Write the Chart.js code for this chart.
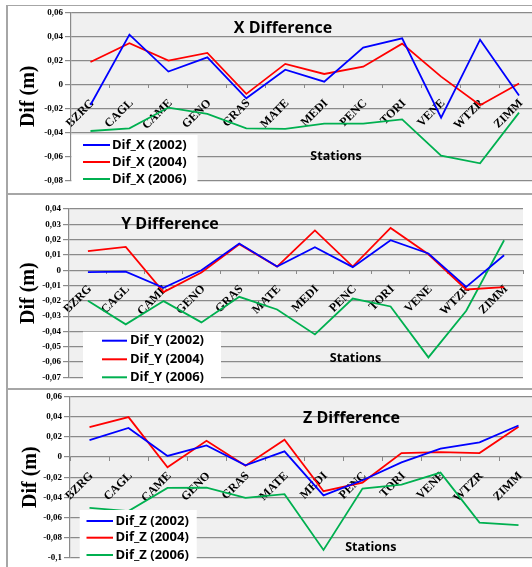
<!DOCTYPE html>
<html>
<head>
<meta charset="utf-8">
<script src="https://cdn.jsdelivr.net/npm/chart.js@4.4.0/dist/chart.umd.min.js"></script>
<style>
  html, body { margin: 0; padding: 0; background: #fff; overflow: hidden; }
  #wrap { position: relative; width: 532px; height: 567px; overflow: hidden; }
  .panel { position: absolute; left: 0; }
  canvas { display: block; }
  .frame { position: absolute; background: #a6a6a6; }
</style>
</head>
<body>
<div id="wrap">
  <div class="panel" style="top:0px"><canvas id="canvasX" width="540" height="194"></canvas></div>
  <div class="panel" style="top:194px"><canvas id="canvasY" width="540" height="195"></canvas></div>
  <div class="panel" style="top:389px"><canvas id="canvasZ" width="540" height="178"></canvas></div>
  <div class="frame" style="left:6px;top:5px;width:2px;height:562px"></div>
  <div class="frame" style="left:6px;top:5px;width:526px;height:1px"></div>
  <div class="frame" style="left:6px;top:193px;width:526px;height:2px"></div>
  <div class="frame" style="left:6px;top:388px;width:526px;height:2px"></div>
</div>
<script>
const stations = ["BZRG", "CAGL", "CAME", "GENO", "GRAS", "MATE", "MEDI", "PENC", "TORI", "VENE", "WTZR", "ZIMM"];

const difX2002 = [-0.0172, 0.0414, 0.0106, 0.0225, -0.0117, 0.0122, 0.0022, 0.0306, 0.0383, -0.0278, 0.0372, -0.0094];
const difX2004 = [0.0186, 0.0342, 0.0197, 0.0261, -0.0080, 0.0170, 0.0086, 0.0147, 0.0339, 0.0064, -0.0175, 0.0006];
const difX2006 = [-0.0389, -0.0367, -0.0194, -0.0247, -0.0367, -0.0372, -0.0328, -0.0328, -0.0292, -0.0594, -0.0658, -0.0236];

const difY2002 = [-0.0013, -0.0009, -0.0115, 0.0000, 0.0174, 0.0024, 0.0150, 0.0020, 0.0196, 0.0109, -0.0109, 0.0098];
const difY2004 = [0.0124, 0.0152, -0.0143, -0.0015, 0.0170, 0.0024, 0.0260, 0.0024, 0.0276, 0.0104, -0.0126, -0.0111];
const difY2006 = [-0.0200, -0.0354, -0.0202, -0.0341, -0.0174, -0.0257, -0.0420, -0.0185, -0.0237, -0.0570, -0.0265, 0.0196];

const difZ2002 = [0.0168, 0.0287, 0.0010, 0.0115, -0.0082, 0.0056, -0.0380, -0.0230, -0.0053, 0.0082, 0.0145, 0.0312];
const difZ2004 = [0.0296, 0.0395, -0.0102, 0.0161, -0.0086, 0.0171, -0.0339, -0.0253, 0.0039, 0.0049, 0.0039, 0.0300];
const difZ2006 = [-0.0503, -0.0536, -0.0306, -0.0303, -0.0405, -0.0368, -0.0920, -0.0313, -0.0273, -0.0155, -0.0650, -0.0674];

const years = ["2002", "2004", "2006"];
const colors = ["#0000ff", "#ff0000", "#00b050"];
const gridColor = "#8a8a8a";

// plot background, title, "Stations" and the white legend box
const panelText = {
  id: "panelText",
  beforeDraw(chart) {
    const a = chart.chartArea, ctx = chart.ctx;
    ctx.save();
    ctx.fillStyle = "#f0f0f0";
    ctx.fillRect(a.left, a.top, a.right - a.left, a.bottom - a.top);
    ctx.restore();
  },
  afterDraw(chart, args, opts) {
    const ctx = chart.ctx;
    ctx.save();
    ctx.fillStyle = "#000";
    ctx.textAlign = "center";
    ctx.textBaseline = "middle";
    ctx.font = 'bold 16px "Open Sans"';
    ctx.fillText(opts.title, opts.titleX, opts.titleY);
    ctx.font = 'bold 12.5px "Open Sans"';
    ctx.fillText("Stations", opts.stationsX, opts.stationsY);

    const b = opts.legend;
    ctx.fillStyle = "#fff";
    ctx.fillRect(b.x, b.y, b.w, b.h);
    ctx.font = 'bold 13px "Open Sans"';
    ctx.textAlign = "left";
    chart.data.datasets.forEach((ds, i) => {
      const y = b.rowY[i];
      ctx.strokeStyle = ds.borderColor;
      ctx.lineWidth = 2;
      ctx.beginPath();
      ctx.moveTo(b.lineX1, y);
      ctx.lineTo(b.lineX2, y);
      ctx.stroke();
      ctx.fillStyle = "#000";
      ctx.fillText(ds.label, b.textX, y);
    });
    ctx.restore();
  }
};

function formatTick(v) {
  const r = Math.round(v * 100) / 100;
  return String(r).replace(".", ",");
}

function createChart(canvas, axisName, series, cfg) {
  const datasets = series.map((values, i) => ({
    label: "Dif_" + axisName + " (" + years[i] + ")",
    data: values,
    borderColor: colors[i],
    backgroundColor: colors[i],
    borderWidth: 1.8,
    pointRadius: 0,
    tension: 0,
    fill: false
  }));

  new Chart(canvas, {
    type: "line",
    data: { labels: stations, datasets: datasets },
    options: {
      responsive: false,
      animation: false,
      layout: { padding: cfg.padding },
      plugins: {
        legend: { display: false },
        tooltip: { enabled: false },
        panelText: cfg.text
      },
      scales: {
        x: {
          type: "category",
          offset: true,
          position: { y: 0 },
          grid: { drawOnChartArea: false, offset: true, tickLength: 4, color: gridColor },
          border: { display: false },
          ticks: {
            autoSkip: false,
            maxRotation: 45,
            minRotation: 45,
            padding: 8,
            labelOffset: 2,
            color: "#000",
            font: { family: "Liberation Serif", weight: "bold", size: 12 }
          }
        },
        y: {
          min: cfg.min,
          max: cfg.max,
          ticks: {
            stepSize: cfg.step,
            padding: 2,
            color: "#000",
            callback: formatTick,
            font: { family: "Liberation Serif", weight: "bold", size: 9 }
          },
          grid: { color: gridColor, lineWidth: 1.2, tickLength: 6 },
          border: { color: gridColor, width: 1.2 },
          title: {
            display: true,
            text: "Dif (m)",
            color: "#000",
            padding: { top: 0, bottom: 0 },
            font: { family: "Liberation Serif", weight: "bold", size: 20 }
          },
          afterFit: (scale) => { scale.width = cfg.axisWidth; }
        }
      }
    },
    plugins: [panelText]
  });
}

createChart(document.getElementById("canvasX"), "X", [difX2002, difX2004, difX2006], {
  min: -0.08, max: 0.06, step: 0.02,
  padding: { left: 16.5, right: 1.5, top: 12.3, bottom: 13.7 },
  axisWidth: 54.5,
  text: {
    title: "X Difference", titleX: 283, titleY: 28,
    stationsX: 336, stationsY: 156,
    legend: { x: 71.5, y: 135, w: 126, h: 59, lineX1: 83, lineX2: 110, textX: 112, rowY: [145, 162, 179] }
  }
});

createChart(document.getElementById("canvasY"), "Y", [difY2002, difY2004, difY2006], {
  min: -0.07, max: 0.04, step: 0.01,
  padding: { left: 17, right: 17, top: 15, bottom: 11.7 },
  axisWidth: 52,
  text: {
    title: "Y Difference", titleX: 170, titleY: 30,
    stationsX: 355.5, stationsY: 164.3,
    legend: { x: 83, y: 137.7, w: 138, h: 58, lineX1: 102, lineX2: 127, textX: 130, rowY: [146.7, 165.3, 183.3] }
  }
});

createChart(document.getElementById("canvasZ"), "Z", [difZ2002, difZ2004, difZ2006], {
  min: -0.1, max: 0.06, step: 0.02,
  padding: { left: 18.5, right: 2, top: 7, bottom: 9 },
  axisWidth: 51.5,
  text: {
    title: "Z Difference", titleX: 351.5, titleY: 29.3,
    stationsX: 370.8, stationsY: 158.7,
    legend: { x: 79.7, y: 121, w: 117, h: 57, lineX1: 86.5, lineX2: 113, textX: 115.4, rowY: [132, 148.7, 166] }
  }
});
</script>
</body>
</html>
